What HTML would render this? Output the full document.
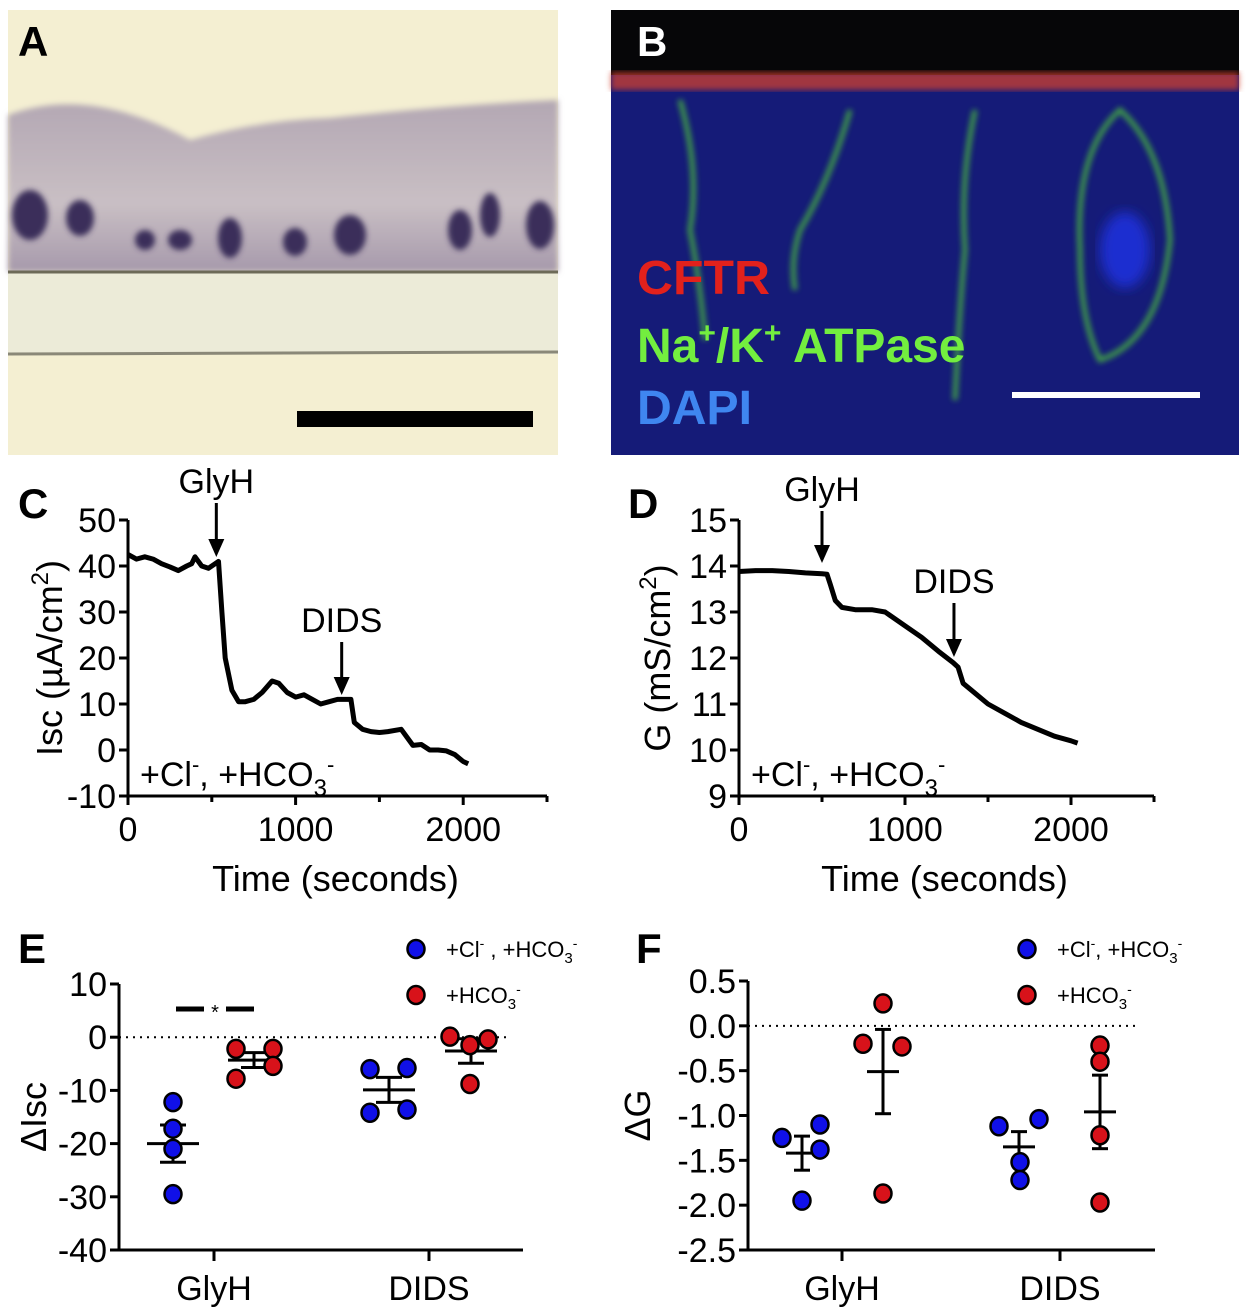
<!DOCTYPE html>
<html><head><meta charset="utf-8"><style>
body{margin:0;background:#fff;}
svg{display:block;font-family:"Liberation Sans",Arial,sans-serif;}
</style></head><body>
<svg id="fig" width="1250" height="1312" viewBox="0 0 1250 1312">
<defs>
<linearGradient id="cellg" x1="0" y1="0" x2="0" y2="1">
<stop offset="0" stop-color="#b3a7b3"/><stop offset="0.6" stop-color="#c9bfc4"/><stop offset="1" stop-color="#a699ab"/></linearGradient>
<filter id="blur3"><feGaussianBlur stdDeviation="3"/></filter>
<filter id="blur6"><feGaussianBlur stdDeviation="6"/></filter>
</defs>
<!-- Panel A -->
<g>
<rect x="8" y="10" width="550" height="445" fill="#f4efd2"/>
<path d="M8,115 Q90,85 190,140 Q260,120 330,118 Q450,105 558,100 L558,272 L8,272 Z" fill="url(#cellg)" filter="url(#blur3)"/>
<g fill="#3a2f5a" filter="url(#blur3)">
<ellipse cx="30" cy="215" rx="18" ry="25"/><ellipse cx="80" cy="218" rx="14" ry="18"/><ellipse cx="145" cy="240" rx="10" ry="10"/><ellipse cx="180" cy="240" rx="12" ry="10"/><ellipse cx="230" cy="238" rx="12" ry="20"/><ellipse cx="295" cy="242" rx="12" ry="14"/><ellipse cx="350" cy="235" rx="16" ry="20"/><ellipse cx="460" cy="230" rx="12" ry="20"/><ellipse cx="490" cy="215" rx="10" ry="22"/><ellipse cx="540" cy="225" rx="14" ry="24"/>
</g>
<rect x="8" y="272" width="550" height="82" fill="#ecebd8"/>
<line x1="8" y1="272" x2="558" y2="272" stroke="#6d6a58" stroke-width="3"/>
<line x1="8" y1="354" x2="558" y2="352" stroke="#8a8878" stroke-width="3"/>
<rect x="297" y="411" width="236" height="16" fill="#000"/>
<text x="18" y="56" font-size="42" font-weight="bold">A</text>
</g>
<!-- Panel B -->
<g>
<rect x="611" y="10" width="628" height="445" fill="#151b78"/>
<rect x="611" y="10" width="628" height="65" fill="#060608"/>
<rect x="611" y="72" width="628" height="18" fill="#d0402e" opacity="0.75" filter="url(#blur3)"/>
<g fill="none" stroke="#4bbf3a" stroke-width="5" opacity="0.8" filter="url(#blur3)">
<path d="M680,100 Q700,170 690,230 Q700,280 705,340"/><path d="M850,110 Q830,180 800,230 Q790,260 795,290"/><path d="M975,110 Q960,180 965,250 Q960,300 955,400"/>
<path d="M1120,110 Q1075,150 1080,250 Q1080,320 1100,360 Q1160,340 1170,240 Q1165,150 1120,110 Z"/>
</g>
<ellipse cx="1125" cy="250" rx="25" ry="38" fill="#1a2ed0" filter="url(#blur6)"/>
<rect x="1012" y="392" width="188" height="6" fill="#fff"/>
<text x="637" y="56" font-size="42" font-weight="bold" fill="#fff">B</text>
<text x="637" y="294" font-size="48" font-weight="bold" fill="#e2211c" textLength="133" lengthAdjust="spacingAndGlyphs">CFTR</text>
<text x="637" y="362" font-size="48" font-weight="bold" fill="#73ee3f">Na<tspan font-size="30" dy="-19">+</tspan><tspan dy="19">/K</tspan><tspan font-size="30" dy="-19">+</tspan><tspan dy="19"> ATPase</tspan></text>
<text x="637" y="424" font-size="48" font-weight="bold" fill="#3f86f0" textLength="115" lengthAdjust="spacingAndGlyphs">DAPI</text>
</g>
<g id="chartC"></g>
<g id="chartD"></g>
<g id="chartE"></g>
<g id="chartF"></g>
</svg>
<script>
// Panel C data
const cTime = [0,50,100,150,200,250,300,350,380,400,440,480,520,540,560,580,620,660,700,750,800,860,900,950,1000,1050,1100,1150,1200,1250,1300,1330,1350,1400,1450,1500,1550,1630,1700,1750,1800,1850,1900,1950,2000,2030];
const cIsc = [42.5,41.5,42,41.5,40.5,39.8,39,40,40.5,42,40,39.5,40.5,41,30,20,13,10.5,10.5,11,12.5,15,14.5,12.5,11.5,12,11,10,10.5,11,11,11,6,4.5,4,3.8,4,4.5,1,1.2,0,0,-0.2,-1,-2.5,-3];
const cYTicks = [50,40,30,20,10,0,-10];
const xTicks = [0,1000,2000];
// Panel D data
const dTime = [0,100,200,300,400,500,530,550,580,620,700,800,880,1000,1100,1200,1290,1320,1350,1400,1500,1600,1700,1800,1900,2000,2040];
const dG = [13.88,13.9,13.9,13.88,13.85,13.83,13.82,13.6,13.25,13.1,13.05,13.05,13.0,12.7,12.45,12.15,11.9,11.8,11.45,11.3,11.0,10.8,10.6,10.45,10.3,10.2,10.15];
const dYTicks = [15,14,13,12,11,10,9];
// Panel E data
const groups = ["GlyH","DIDS"];
const eBlueGlyH = [-12.2,-17.2,-21,-29.5];
const eRedGlyH = [-2.2,-2.2,-5.4,-7.8];
const eBlueDIDS = [-6,-5.8,-14.2,-13.6];
const eRedDIDS = [0.1,-1.5,-0.4,-8.8];
const eMean = [-20,-4.3,-9.9,-2.6];
const eSem = [3.5,1.4,2.35,2.3];
const eYTicks = [10,0,-10,-20,-30,-40];
// Panel F data
const fBlueGlyH = [-1.25,-1.1,-1.38,-1.95];
const fRedGlyH = [0.25,-0.2,-0.23,-1.87];
const fBlueDIDS = [-1.12,-1.04,-1.52,-1.72];
const fRedDIDS = [-0.22,-0.4,-1.22,-1.97];
const fMean = [-1.42,-0.51,-1.35,-0.96];
const fSem = [0.19,0.47,0.17,0.41];
const fYTicks = [0.5,0.0,-0.5,-1.0,-1.5,-2.0,-2.5];

const NS="http://www.w3.org/2000/svg";
function mk(parent,tag,attrs,txt){const e=document.createElementNS(NS,tag);for(const k in attrs)e.setAttribute(k,attrs[k]);if(txt!==undefined)e.textContent=txt;parent.appendChild(e);return e;}
function lin(d0,d1,r0,r1){return v=>r0+(v-d0)*(r1-r0)/(d1-d0);}

function trace(gid,o){
  const g=document.getElementById(gid);
  const x=lin(0,2500,o.x0,o.x1), y=lin(o.ymax,o.ymin,o.yt,o.yb);
  const ax=mk(g,'path',{d:`M${o.x0},${o.yt} L${o.x0},${o.yb} L${o.x1},${o.yb}`,fill:'none',stroke:'#000','stroke-width':3});
   
  o.yticks.forEach(v=>{
    mk(g,'line',{x1:o.x0-9,x2:o.x0,y1:y(v),y2:y(v),stroke:'#000','stroke-width':3});
    const t=mk(g,'text',{x:o.x0-12,y:y(v)+12,'font-size':34,'text-anchor':'end'},String(v));
     
  });
  [0,500,1000,1500,2000,2500].forEach(v=>mk(g,'line',{x1:x(v),x2:x(v),y1:o.yb,y2:o.yb+(v%1000===0?9:6),stroke:'#000','stroke-width':3}));
  xTicks.forEach(v=>{const t=mk(g,'text',{x:x(v),y:o.yb+45,'font-size':34,'text-anchor':'middle'},String(v));
     });
  const xt=mk(g,'text',{x:(x(0)+x(2500))/2-2,y:o.yb+95,'font-size':36,'text-anchor':'middle'},'Time (seconds)');
   
  const d=o.t.map((t,i)=>(i?'L':'M')+x(t).toFixed(1)+','+y(o.v[i]).toFixed(1)).join(' ');
  const p=mk(g,'path',{d:d,fill:'none',stroke:'#000','stroke-width':5,'stroke-linejoin':'round'});
   
  o.arrows.forEach(a=>{
    const ax_=x(a.t);
    mk(g,'line',{x1:ax_,x2:ax_,y1:a.y0,y2:a.y1-14,stroke:'#000','stroke-width':3});
    mk(g,'path',{d:`M${ax_-8},${a.y1-18} L${ax_+8},${a.y1-18} L${ax_},${a.y1} Z`,fill:'#000'});
    const t=mk(g,'text',{x:ax_,y:a.y0-10,'font-size':34,'text-anchor':'middle'},a.label);
     
  });
  const c=mk(g,'text',{x:o.x0+12,y:o.yb-10,'font-size':34},'');
   
  c.innerHTML='+Cl<tspan font-size="22" dy="-14">-</tspan><tspan dy="14">, +HCO</tspan><tspan font-size="24" dy="10">3</tspan><tspan font-size="22" dy="-24">-</tspan>';
  const yl=mk(g,'text',{transform:`translate(${o.ylx},${(o.yt+o.yb)/2}) rotate(-90)`,'font-size':36,'text-anchor':'middle'},'');
   
  yl.innerHTML=o.ylab;
  const L=mk(g,'text',{x:o.lx,y:o.ly,'font-size':42,'font-weight':'bold'},o.letter);
   
}
trace('chartC',{x0:128,x1:547,yt:520,yb:796,ymax:50,ymin:-10,yticks:cYTicks,t:cTime,v:cIsc,ylx:62,
  ylab:'Isc (µA/cm<tspan font-size="24" dy="-14">2</tspan><tspan dy="14">)</tspan>',letter:'C',lx:18,ly:518,
  arrows:[{t:527,y0:503,y1:557,label:'GlyH'},{t:1275,y0:642,y1:695,label:'DIDS'}]});
trace('chartD',{x0:739,x1:1154,yt:520,yb:796,ymax:15,ymin:9,yticks:dYTicks,t:dTime,v:dG,ylx:670,
  ylab:'G (mS/cm<tspan font-size="24" dy="-14">2</tspan><tspan dy="14">)</tspan>',letter:'D',lx:628,ly:518,
  arrows:[{t:500,y0:511,y1:563,label:'GlyH'},{t:1295,y0:603,y1:657,label:'DIDS'}]});

function dots(gid,o){
  const g=document.getElementById(gid);
  const y=lin(o.ymax,o.ymin,o.yt,o.yb);
  mk(g,'path',{d:`M${o.x0},${o.yt} L${o.x0},${o.yb} L${o.x1},${o.yb}`,fill:'none',stroke:'#000','stroke-width':3});
  o.yticks.forEach(v=>{
    mk(g,'line',{x1:o.x0-9,x2:o.x0,y1:y(v),y2:y(v),stroke:'#000','stroke-width':3});
    const t=mk(g,'text',{x:o.x0-12,y:y(v)+12,'font-size':34,'text-anchor':'end'},o.fmt(v));
     
  });
  groups.forEach((gn,i)=>{
    mk(g,'line',{x1:o.gx[i],x2:o.gx[i],y1:o.yb,y2:o.yb+11,stroke:'#000','stroke-width':3});
    const t=mk(g,'text',{x:o.gx[i],y:o.yb+50,'font-size':34,'text-anchor':'middle'},gn);
     
  });
  mk(g,'line',{x1:o.x0,x2:o.x1-15,y1:y(0),y2:y(0),stroke:'#000','stroke-width':2,'stroke-dasharray':'2 5'});
  o.series.forEach((s,k)=>{
    const c=o.cx[k];
    const m=o.mean[k], e=o.sem[k];
    mk(g,'line',{x1:c-o.mw,x2:c+o.mw,y1:y(m),y2:y(m),stroke:'#000','stroke-width':3});
    mk(g,'line',{x1:c,x2:c,y1:y(m+e),y2:y(m-e),stroke:'#000','stroke-width':3});
    mk(g,'line',{x1:c-o.cw,x2:c+o.cw,y1:y(m+e),y2:y(m+e),stroke:'#000','stroke-width':3});
    mk(g,'line',{x1:c-o.cw,x2:c+o.cw,y1:y(m-e),y2:y(m-e),stroke:'#000','stroke-width':3});
    s.forEach((v,j)=>{
      const d=mk(g,'ellipse',{cx:c+o.off[k][j],cy:y(v),rx:8.5,ry:9,fill:k%2?'#d8121a':'#1010e8',stroke:'#000','stroke-width':2.5});
       
    });
  });
  const lg=[['#1010e8','+Cl<tspan font-size="14" dy="-9">-</tspan><tspan dy="9">'+o.sep+'+HCO</tspan><tspan font-size="15" dy="6">3</tspan><tspan font-size="14" dy="-15">-</tspan>',949],
            ['#d8121a','+HCO<tspan font-size="15" dy="6">3</tspan><tspan font-size="14" dy="-15">-</tspan>',995]];
  lg.forEach((l,i)=>{
    const c=mk(g,'ellipse',{cx:o.lgx,cy:l[2],rx:8.5,ry:9,fill:l[0],stroke:'#000','stroke-width':2.5});
     
    const t=mk(g,'text',{x:o.lgx+30,y:l[2]+8,'font-size':22},'');
     
    t.innerHTML=l[1];
  });
  const yl=mk(g,'text',{transform:`translate(${o.ylx},${(o.yt+o.yb)/2}) rotate(-90)`,'font-size':36,'text-anchor':'middle'},o.ylab);
   
  const L=mk(g,'text',{x:o.lx,y:963,'font-size':42,'font-weight':'bold'},o.letter);
   
  return y;
}
const yE=dots('chartE',{x0:119,x1:523,yt:984,yb:1250,ymax:10,ymin:-40,yticks:eYTicks,fmt:v=>String(v),
  gx:[214,429],cx:[173,254,389,471],mean:eMean,sem:eSem,mw:26,cw:13,
  series:[eBlueGlyH,eRedGlyH,eBlueDIDS,eRedDIDS],
  off:[[0,0,0,0],[-18,19,19,-18],[-19,18,-19,18],[-21,-1,17,-1]],
  lgx:416,sep:' , ',ylab:'ΔIsc',ylx:46,letter:'E',lx:18});
(function(){const g=document.getElementById('chartE');
  const s=mk(g,'path',{d:`M176,${yE(5.3)} L204,${yE(5.3)} M226,${yE(5.3)} L254,${yE(5.3)}`,stroke:'#000','stroke-width':5});
   
  const t=mk(g,'text',{x:215,y:yE(5.3)+10,'font-size':20,'text-anchor':'middle'},'*');
   })();
dots('chartF',{x0:748,x1:1155,yt:981,yb:1250,ymax:0.5,ymin:-2.5,yticks:fYTicks,fmt:v=>v.toFixed(1),
  gx:[842,1060],cx:[802,883,1019,1100],mean:fMean,sem:fSem,mw:16,cw:8,
  series:[fBlueGlyH,fRedGlyH,fBlueDIDS,fRedDIDS],
  off:[[-20,18,18,0],[0,-20,19,0],[-20,20,1,1],[0,0,0,0]],
  lgx:1027,sep:', ',ylab:'ΔG',ylx:650,letter:'F',lx:636});
</script>
</body></html>
